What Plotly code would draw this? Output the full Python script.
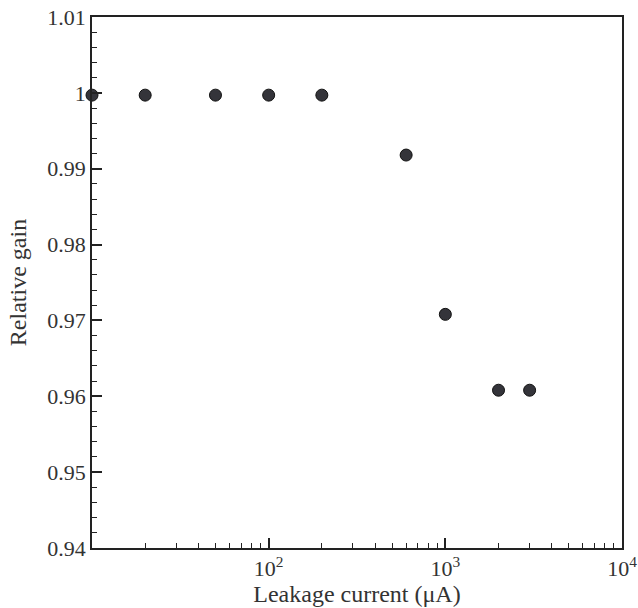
import plotly.graph_objects as go

# Leakage current (µA) and the relative gain measured at each value
leakage_current = [10, 20, 50, 100, 200, 600, 1000, 2000, 3000]
relative_gain = [0.9997, 0.9997, 0.9997, 0.9997, 0.9997, 0.9918, 0.9708, 0.9608, 0.9608]

y_tick_vals = [0.94, 0.95, 0.96, 0.97, 0.98, 0.99, 1.0, 1.01]
y_tick_text = ["0.94", "0.95", "0.96", "0.97", "0.98", "0.99", "1", "1.01"]
x_tick_vals = [100, 1000, 10000]
x_tick_text = ["10<sup>2</sup>", "10<sup>3</sup>", "10<sup>4</sup>"]

FONT = "Liberation Serif"
INK = "#222222"
TEXT = "#333333"

fig = go.Figure(
    go.Scatter(
        x=leakage_current,
        y=relative_gain,
        mode="markers",
        marker=dict(size=12, color="#34343a", line=dict(color="#111111", width=1)),
        cliponaxis=False,
        showlegend=False,
    )
)

fig.update_layout(
    width=638,
    height=608,
    margin=dict(l=92, r=16, t=17, b=60),
    paper_bgcolor="white",
    plot_bgcolor="white",
    font=dict(family=FONT, size=22, color=TEXT),
)

fig.update_xaxes(
    type="log",
    range=[1, 4],
    automargin=False,
    tickvals=x_tick_vals,
    ticktext=x_tick_text,
    tickfont=dict(family=FONT, size=22, color=TEXT),
    ticks="inside",
    ticklen=10,
    tickwidth=1.5,
    tickcolor=INK,
    showline=True,
    linecolor=INK,
    linewidth=1.5,
    mirror=True,
    showgrid=False,
    zeroline=False,
    minor=dict(ticks="inside", ticklen=5, tickwidth=1.2, tickcolor=INK, dtick="D1", showgrid=False),
    title=dict(text="Leakage current (μA)", font=dict(family=FONT, size=24, color=TEXT), standoff=0),
)

fig.update_yaxes(
    range=[0.94, 1.01],
    automargin=False,
    tickvals=y_tick_vals,
    ticktext=y_tick_text,
    tickfont=dict(family=FONT, size=22, color=TEXT),
    ticks="inside",
    ticklen=10,
    tickwidth=1.5,
    tickcolor=INK,
    showline=True,
    linecolor=INK,
    linewidth=1.5,
    mirror=True,
    showgrid=False,
    zeroline=False,
    minor=dict(ticks="inside", ticklen=5, tickwidth=1.2, tickcolor=INK, dtick=0.002, showgrid=False),
    title=dict(text="Relative gain", font=dict(family=FONT, size=24, color=TEXT), standoff=14),
)

fig.write_html("out.html")
